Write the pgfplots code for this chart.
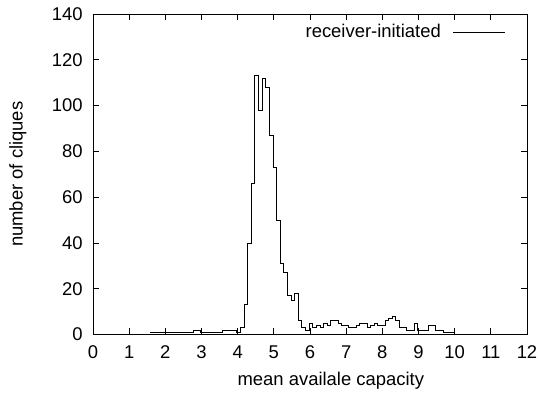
\documentclass[border=0pt]{standalone}
\usepackage{fontspec}
\setmainfont{Liberation Sans}
\usepackage{pgfplots}
\pgfplotsset{compat=1.18}
\begin{document}
\fontsize{18.5}{22}\selectfont
\begin{tikzpicture}
\path[use as bounding box] (-93bp,-61.5bp) rectangle (447bp,334.5bp);
\begin{axis}[
  at={(0,0)}, anchor=south west,
  scale only axis, width=434bp, height=320.5bp,
  xmin=0, xmax=12, ymin=0, ymax=140,
  xtick={0,1,...,12}, ytick={0,20,...,140},
  tick align=inside, major tick length=6bp,
  axis line style={line width=0.8bp},
  every tick/.style={black, line width=0.8bp},
  /pgf/number format/assume math mode=true,
  xticklabel style={anchor=base, yshift=-23.5bp},
  yticklabel style={anchor=east, xshift=-4bp},
  xlabel={mean availale capacity}, ylabel={number of cliques},
  xlabel style={at={(axis description cs:0.548,-0.145)}, anchor=center},
  ylabel style={at={(axis description cs:-0.173,0.5)}, anchor=center},
  legend style={at={(rel axis cs:0.951,0.944)}, anchor=east, draw=none, fill=none, inner sep=0pt, outer sep=0pt},
  legend plot pos=right,
  legend cell align=right,
  legend image code/.code={\path[draw=none, fill=none] (0bp,0bp) -- (1bp,0bp); \draw[black, line width=0.8bp] (10bp,0bp) -- (62.5bp,0bp);},
]
\addplot[const plot, black, line width=0.8bp] coordinates {
(1.575,1) (2.775,2) (2.975,1) (3.575,2) (3.975,1) (4.075,3) (4.175,13) (4.275,40)
(4.375,66) (4.475,113) (4.575,98) (4.675,112) (4.775,108) (4.875,87) (4.975,73)
(5.075,50) (5.175,31) (5.275,27) (5.375,17) (5.475,15) (5.575,18)
(5.675,6) (5.775,3) (5.875,2) (5.975,5) (6.075,3) (6.175,4) (6.275,3) (6.375,5)
(6.475,4) (6.575,6) (6.675,6) (6.775,5) (6.875,4) (6.975,4) (7.075,3) (7.175,3)
(7.275,4) (7.375,5) (7.475,5) (7.575,3) (7.675,4) (7.775,5) (7.875,4) (7.975,4)
(8.075,6) (8.175,7) (8.275,8) (8.375,6) (8.475,3) (8.575,3) (8.675,2) (8.775,2)
(8.875,5) (8.975,2) (9.075,2) (9.175,2) (9.275,4) (9.375,4) (9.475,2) (9.575,2)
(9.675,1) (9.775,1) (9.875,1) (9.975,1)
};
\addlegendentry{receiver-initiated}
\end{axis}
\end{tikzpicture}
\end{document}
